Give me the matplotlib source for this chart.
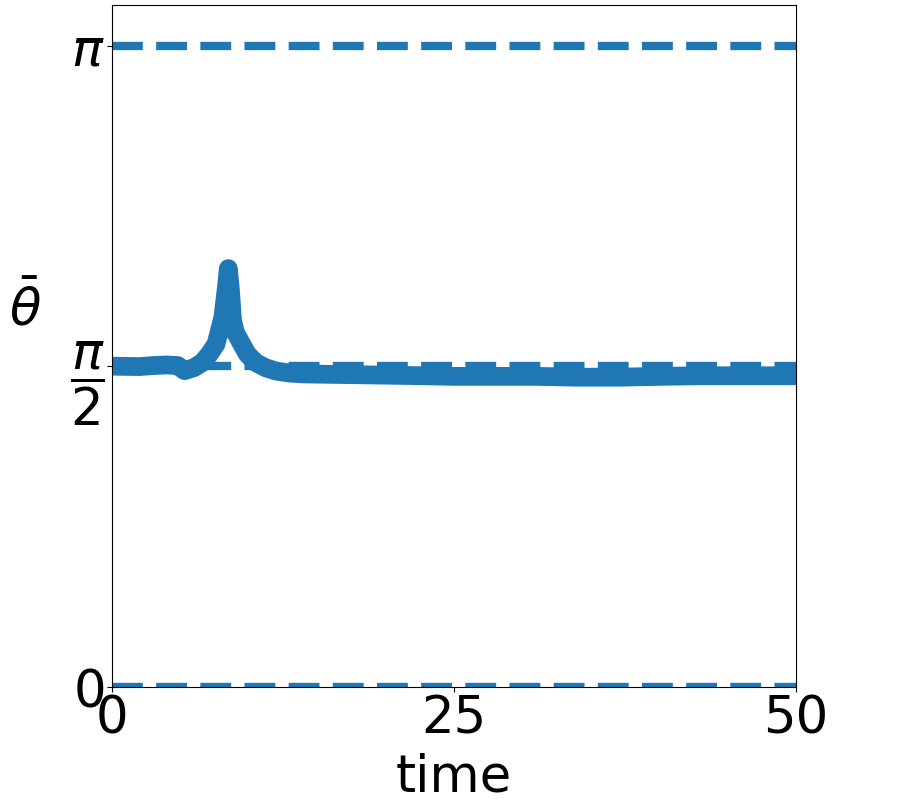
import matplotlib
matplotlib.use("Agg")
import matplotlib.pyplot as plt
import numpy as np

# mean angle over time
t = [0, 1, 2, 3, 4, 4.8, 5.3, 6.0, 6.6, 7.1, 7.6, 8.1, 8.35, 8.5, 8.65, 8.8,
     9.0, 9.4, 9.9, 10.5, 11.2, 12.0, 13, 14, 16, 18, 20, 22, 25, 28, 31,
     34, 37, 40, 43, 46, 50]
theta_bar = [1.572, 1.571, 1.570, 1.575, 1.578, 1.575, 1.550, 1.565, 1.590,
             1.630, 1.680, 1.810, 1.950, 2.050, 1.950, 1.800, 1.740, 1.690,
             1.630, 1.590, 1.565, 1.548, 1.538, 1.534, 1.532, 1.530, 1.528,
             1.526, 1.522, 1.522, 1.522, 1.518, 1.518, 1.522, 1.525, 1.525,
             1.525]

ref_levels = [0, np.pi / 2, np.pi]
ytick_labels = [r'$0$', r'$\dfrac{\pi}{2}$', r'$\pi$']
xticks = [0, 25, 50]

fs = 37
fig = plt.figure(figsize=(9.02, 8.11), dpi=100)
ax = fig.add_axes([0.1242, 0.1529, 0.7583, 0.8409])

for lev in ref_levels:
    ax.axhline(lev, color='tab:blue', ls='--', lw=6)

ax.plot(t, theta_bar, color='tab:blue', lw=13.5, solid_joinstyle='round',
        solid_capstyle='round')

ax.set_xlim(0, 50)
ax.set_ylim(0, np.pi + 0.2)
ax.set_xticks(xticks)
ax.set_xticklabels([str(v) for v in xticks], fontsize=fs)
ax.set_yticks(ref_levels)
ax.set_yticklabels(ytick_labels, fontsize=fs)
ax.tick_params(pad=2)

ax.set_xlabel('time', fontsize=fs, labelpad=6)
ax.set_ylabel(r'$\bar{\theta}$', fontsize=fs, rotation=0, ha='center', va='center')
ax.yaxis.set_label_coords(-0.127, 0.553)

fig.savefig('out.png', dpi=100)
